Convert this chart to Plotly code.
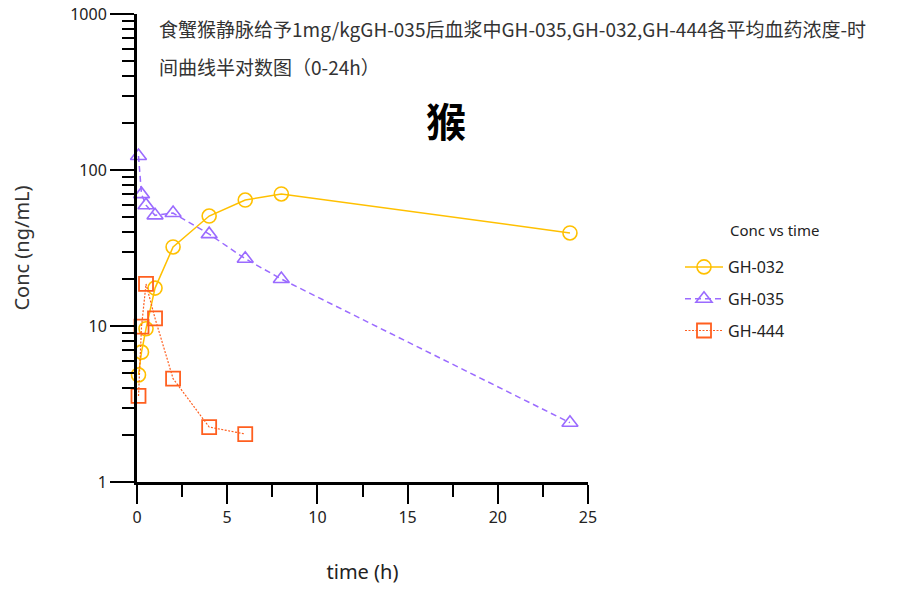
import plotly.graph_objects as go

# Sampling times (h)
time_h = [0.083, 0.25, 0.5, 1, 2, 4, 6, 8, 24]
time_h_444 = [0.083, 0.25, 0.5, 1, 2, 4, 6]

# Mean plasma concentrations (ng/mL)
conc_gh032 = [4.86, 6.8, 9.6, 17.5, 32.1, 50.7, 64.2, 70.2, 39.5]
conc_gh035 = [123, 70, 59.5, 51.2, 53.0, 38.8, 27.0, 20.0, 2.4]
conc_gh444 = [3.56, 9.9, 18.6, 11.2, 4.6, 2.25, 2.03]

series_names = ["GH-032", "GH-035", "GH-444"]
x_ticks = [0, 5, 10, 15, 20, 25]
x_minor_ticks = [2.5, 7.5, 12.5, 17.5, 22.5]
y_ticks = [1, 10, 100, 1000]
y_tick_text = ["1", "10", "100", "1000"]
y_minor_ticks = [m * 10 ** e for e in range(3) for m in range(2, 10)]

title_line1 = "食蟹猴静脉给予1mg/kgGH-035后血浆中GH-035,GH-032,GH-444各平均血药浓度-时"
title_line2 = "间曲线半对数图（0-24h）"
species_label = "猴"
legend_title = "Conc vs time"

W, H = 910, 592
L, R, T, B = 137, 322, 14, 110
PW, PH = W - L - R, H - T - B


def px_x(p):
    return (p - L) / PW


def px_y(p):
    return (H - B - p) / PH


LATIN = "Noto Sans, Open Sans, sans-serif"
CJK = "Noto Sans CJK SC, sans-serif"

fig = go.Figure()

fig.add_trace(go.Scatter(
    x=time_h, y=conc_gh032, name=series_names[0], mode="lines+markers",
    line=dict(color="#FFC000", width=1.5, dash="solid"),
    marker=dict(symbol="circle-open", size=14, color="#FFC000", line=dict(width=1.6)),
    cliponaxis=False, legendgroup="a",
))
fig.add_trace(go.Scatter(
    x=time_h, y=conc_gh035, name=series_names[1], mode="lines+markers",
    line=dict(color="#9B6BFF", width=1.5, dash="6px,4px"),
    marker=dict(symbol="triangle-up-open", size=14, color="#9B6BFF", line=dict(width=1.6)),
    cliponaxis=False, legendgroup="b",
))
fig.add_trace(go.Scatter(
    x=time_h_444, y=conc_gh444, name=series_names[2], mode="lines+markers",
    line=dict(color="#FF5F1F", width=1.2, dash="2px,1.5px"),
    marker=dict(symbol="square-open", size=14, color="#FF5F1F", line=dict(width=1.8)),
    cliponaxis=False, legendgroup="c",
))

fig.update_layout(
    width=W, height=H,
    margin=dict(l=L, r=R, t=T, b=B, autoexpand=False),
    paper_bgcolor="white", plot_bgcolor="white",
    font=dict(family=LATIN, color="#222222"),
    showlegend=True,
    legend=dict(
        x=px_x(680), y=px_y(250), xanchor="left", yanchor="top",
        font=dict(family=LATIN, size=16, color="#222222"),
        tracegroupgap=8, itemwidth=38, bgcolor="rgba(0,0,0,0)",
    ),
    xaxis=dict(
        range=[0, 25], showgrid=False, zeroline=False,
        showline=True, linewidth=3, linecolor="black",
        tickmode="array", tickvals=x_ticks,
        ticks="outside", ticklen=19, tickwidth=1.5, tickcolor="black",
        tickfont=dict(size=16, color="#222222"),
        minor=dict(tickmode="array", tickvals=x_minor_ticks, ticks="outside",
                   ticklen=12, tickwidth=1.5, tickcolor="black", showgrid=False),
        title=dict(text="time (h)", font=dict(size=20, color="#222222"), standoff=38),
    ),
    yaxis=dict(
        type="log", range=[0, 3], showgrid=False, zeroline=False,
        showline=True, linewidth=3, linecolor="black",
        tickmode="array", tickvals=y_ticks, ticktext=y_tick_text,
        ticks="outside", ticklen=24, tickwidth=1.5, tickcolor="black",
        tickfont=dict(size=16, color="#222222"),
        minor=dict(tickmode="array", tickvals=y_minor_ticks, ticks="outside",
                   ticklen=12, tickwidth=1.5, tickcolor="black", showgrid=False),
        title=dict(text="Conc (ng/mL)", font=dict(size=20, color="#333333"), standoff=36),
    ),
    annotations=[
        dict(text=title_line1, xref="paper", yref="paper", x=px_x(157), y=px_y(28),
             xanchor="left", yanchor="middle", showarrow=False,
             font=dict(family=CJK, size=19, color="#333333")),
        dict(text=title_line2, xref="paper", yref="paper", x=px_x(157), y=px_y(66),
             xanchor="left", yanchor="middle", showarrow=False,
             font=dict(family=CJK, size=19, color="#333333")),
        dict(text="<b>" + species_label + "</b>", xref="paper", yref="paper",
             x=px_x(446), y=px_y(120), xanchor="center", yanchor="middle",
             showarrow=False, font=dict(family=CJK, size=40, color="black")),
        dict(text=legend_title, xref="paper", yref="paper", x=px_x(728), y=px_y(230),
             xanchor="left", yanchor="middle", showarrow=False,
             font=dict(family=LATIN, size=15, color="#222222")),
    ],
)

fig.write_html("out.html")
